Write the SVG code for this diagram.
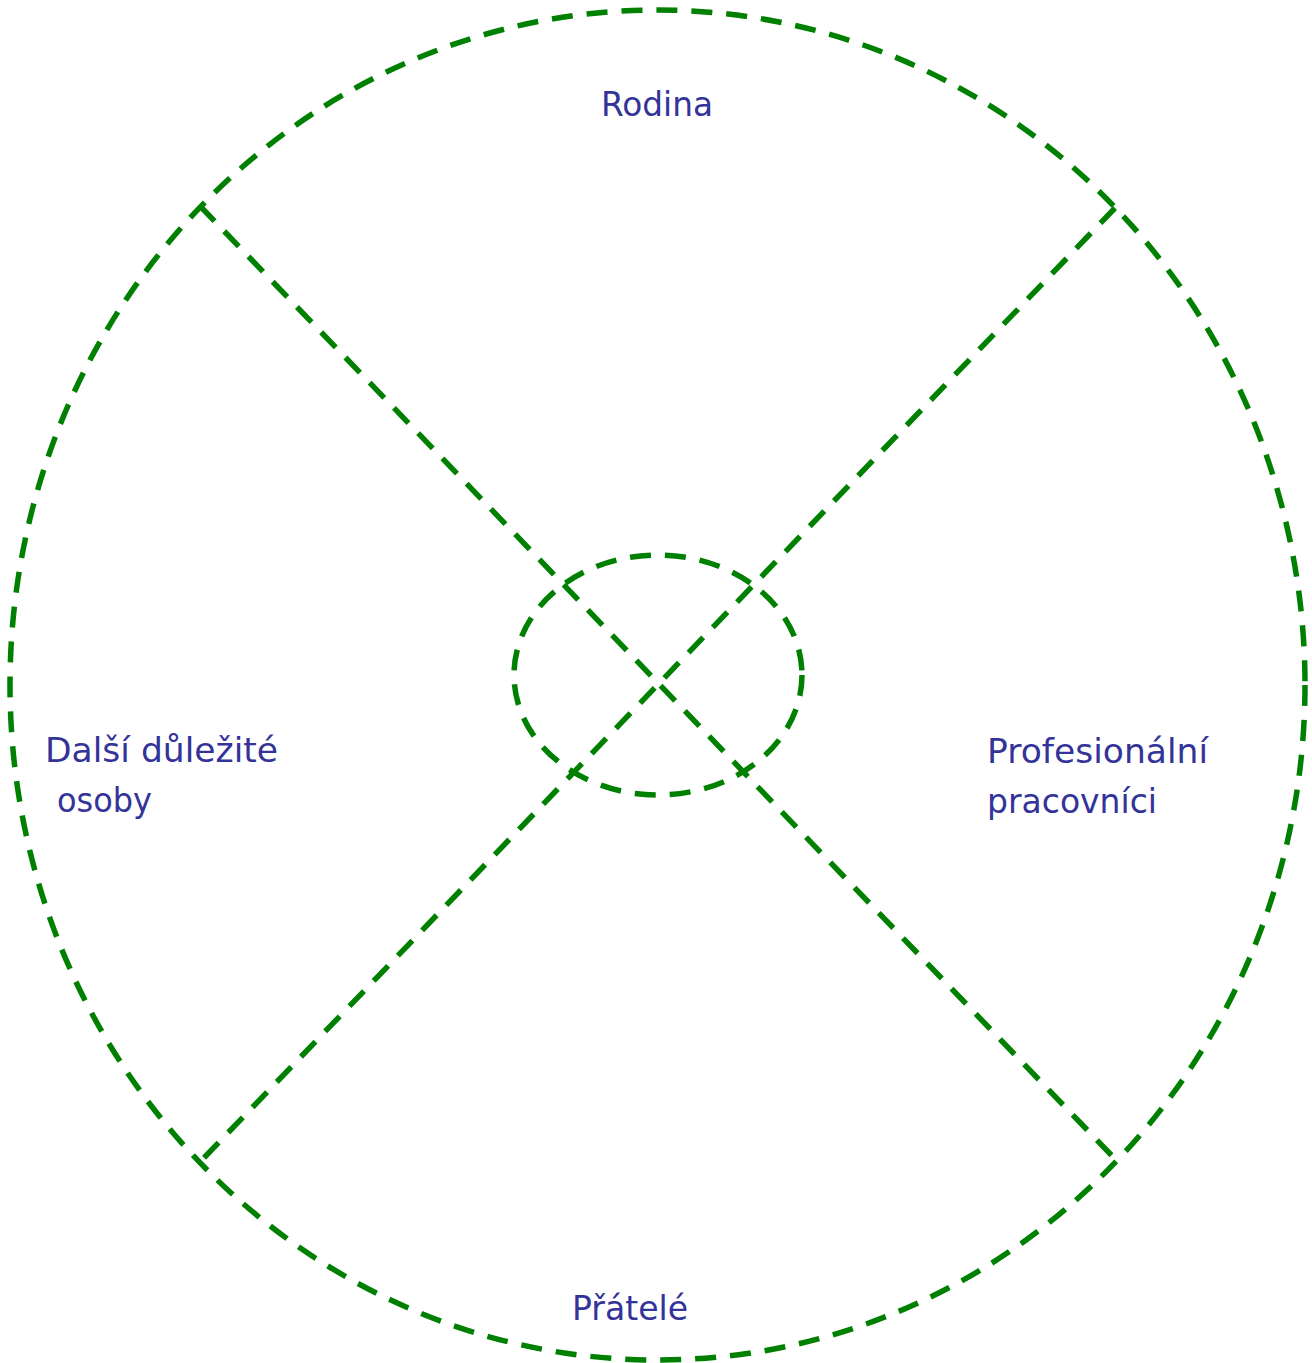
<svg xmlns="http://www.w3.org/2000/svg" width="1312" height="1363" viewBox="0 0 1312 1363">
<style>
.d{fill:none;stroke:#008000;stroke-width:5.5;stroke-dasharray:21 14}
.t{font-family:"DejaVu Sans","Liberation Sans",sans-serif;font-size:33px;fill:#333399}
</style>
<rect width="1312" height="1363" fill="#fff"/>
<g id="outer"><ellipse class="d" cx="657.5" cy="685" rx="647.5" ry="675"/></g>
<g id="connectors">
<line class="d" x1="200" y1="206" x2="1118" y2="1162"/>
<line class="d" x1="1115" y1="208" x2="200" y2="1162"/>
</g>
<g id="inner"><ellipse class="d" cx="658" cy="675" rx="144" ry="120"/></g>
<g id="rodina"><text class="t" x="601" y="116" textLength="112" lengthAdjust="spacingAndGlyphs">Rodina</text></g>
<g id="dalsi"><text class="t" x="45" y="762" textLength="233" lengthAdjust="spacingAndGlyphs">Další důležité</text><text class="t" x="57" y="812" textLength="95" lengthAdjust="spacingAndGlyphs">osoby</text></g>
<g id="profesionalni"><text class="t" x="987" y="763" textLength="221" lengthAdjust="spacingAndGlyphs">Profesionální</text><text class="t" x="987" y="813" textLength="170" lengthAdjust="spacingAndGlyphs">pracovníci</text></g>
<g id="pratele"><text class="t" x="572" y="1320" textLength="116" lengthAdjust="spacingAndGlyphs">Přátelé</text></g>
</svg>
